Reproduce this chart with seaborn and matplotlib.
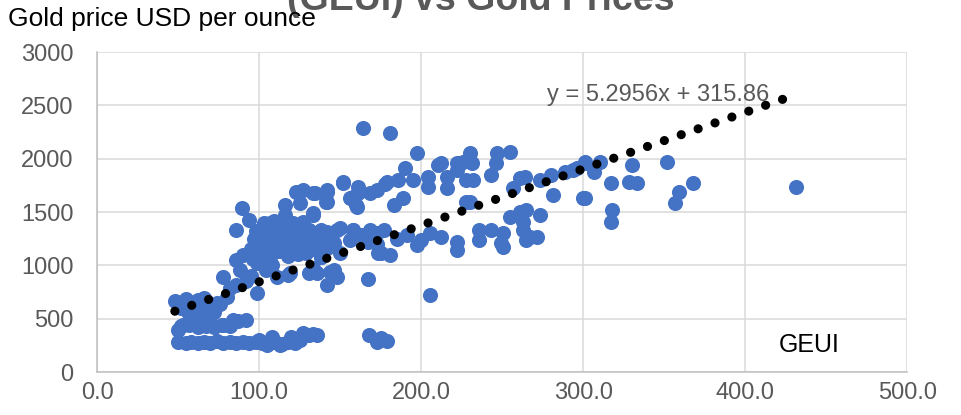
import numpy as np
import pandas as pd
import matplotlib
matplotlib.use("Agg")
import matplotlib.pyplot as plt
import seaborn as sns

# GEUI index values (x) and gold price USD/oz (y)
geui_low = [50, 55, 58, 62, 66, 70, 74, 78, 82, 86, 90, 94, 98, 102, 106, 110, 114,
            118, 122, 127, 131, 136, 120, 113, 105, 168, 173, 179, 175, 100, 108, 125, 133]
gold_low = [280, 275, 285, 270, 280, 275, 290, 270, 285, 275, 280, 270, 285, 275, 270,
            285, 265, 280, 275, 370, 345, 350, 330, 255, 255, 345, 280, 295, 320, 300, 330, 300, 360]

geui_mid_low = [52, 57, 62, 67, 72, 77, 82, 87, 92, 84, 78, 70, 60, 50, 53,
                48, 55, 62, 68, 74, 58, 65, 52, 60, 70, 76, 80, 66, 56, 64, 72]
gold_mid_low = [430, 440, 425, 435, 420, 445, 430, 480, 488, 488, 441, 470, 460, 394, 441,
                670, 680, 675, 660, 650, 640, 620, 600, 580, 600, 640, 700, 690, 560, 540, 560]

geui_rise = [78, 82, 86, 88, 99, 99, 111, 118, 119, 86, 92, 95, 104, 108, 96, 90, 102,
             95, 97, 98, 100, 102, 104, 106, 108, 110, 112, 113, 115, 117, 119, 120, 122,
             124, 125, 127, 128, 130, 132, 133, 135, 137, 138, 140, 103, 109, 114, 121, 126,
             131, 101, 107, 118, 129]
gold_rise = [891, 788, 1050, 957, 1022, 741, 891, 910, 930, 816, 850, 900, 960, 1000, 1060, 1100, 1100,
             1150, 1250, 1320, 1200, 1280, 1350, 1180, 1240, 1310, 1130, 1200, 1270, 1350, 1160, 1230, 1300,
             1110, 1180, 1250, 1340, 1200, 1280, 1150, 1230, 1300, 1079, 1180, 1400, 1420, 1380, 1400, 1380,
             1330, 1120, 1080, 1090, 1120]

geui_upper = [86, 89.5, 94, 107, 116, 116, 123, 125, 127, 133, 134.5, 142, 142, 142, 152,
              156, 158, 160.5, 161, 161, 168.5, 173, 179, 183, 189, 141, 133, 127, 133, 157, 160]
gold_upper = [1332, 1538, 1426, 1398, 1566, 1473, 1688, 1585, 1407, 1473, 1679, 1688, 1595, 1707, 1773,
              1632, 1641, 1548, 1735, 1679, 1679, 1707, 1782, 1566, 1632, 1595, 1491, 1707, 1679, 1632, 1566]

geui_center = [142, 150, 158, 142, 130, 138, 148, 158, 168.5, 177, 146, 156, 167, 175, 191,
               197.5, 205.5, 222, 222, 138, 150, 133, 173, 173.5, 144, 142, 146, 148, 131, 136,
               167, 205.6, 173, 185, 163, 181, 200, 212]
gold_center = [1313, 1350, 1332, 1163, 1332, 1332, 1332, 1332, 1332, 1332, 1210, 1238, 1220, 1116, 1285,
               1191, 1304, 1220, 1144, 1079, 1116, 975, 1304, 1116, 938, 816, 957, 891, 929, 929,
               872, 722, 1200, 1250, 1280, 1100, 1240, 1270]

geui_high = [164, 181, 197.5, 190, 210.5, 222, 222, 195, 204, 204, 216, 216, 212, 152, 230,
             226, 231.5, 228, 232, 243, 247, 246, 255, 264, 261, 257, 228, 230, 186, 178]
gold_high = [2289, 2242, 2054, 1914, 1942, 1960, 1895, 1801, 1829, 1735, 1829, 1726, 1960, 1782, 2054,
             1970, 1960, 1801, 1801, 1848, 2054, 1960, 2064, 1829, 1820, 1726, 1595, 1595, 1800, 1760]

geui_right = [255, 261, 265, 273.5, 263, 263, 236, 243, 250.6, 249, 250.6, 236, 265, 267, 271.6,
              273.5, 280, 289, 296, 301, 281.5, 300, 301, 310.5, 307, 294, 317, 301, 318, 317,
              330, 328, 333, 352, 359, 357, 368, 431.5]
gold_right = [1454, 1500, 1520, 1473, 1407, 1332, 1332, 1332, 1304, 1210, 1172, 1238, 1238, 1266, 1266,
              1801, 1848, 1876, 1914, 1960, 1660, 1632, 1970, 1970, 1876, 1895, 1773, 1632, 1520, 1407,
              1942, 1782, 1773, 1970, 1688, 1585, 1773, 1735]

# trendline as printed on the chart
TREND_SLOPE = 5.2956
TREND_INTERCEPT = 315.86
TREND_LABEL = "y = 5.2956x + 315.86"

X_TICKS = [0, 100, 200, 300, 400, 500]
Y_TICKS = [0, 500, 1000, 1500, 2000, 2500, 3000]


def main():
    geui = geui_low + geui_mid_low + geui_rise + geui_upper + geui_center + geui_high + geui_right
    gold = gold_low + gold_mid_low + gold_rise + gold_upper + gold_center + gold_high + gold_right
    df = pd.DataFrame({"geui": geui, "gold": gold})

    sns.set_style("white")
    plt.rcParams["font.family"] = ["Liberation Sans", "DejaVu Sans"]

    fig = plt.figure(figsize=(9.61, 4.15), dpi=100)
    ax = fig.add_axes([0.101, 0.1036, 0.843, 0.771])

    sns.scatterplot(data=df, x="geui", y="gold", ax=ax, color="#4472C4",
                    s=118, linewidth=0, alpha=1, zorder=3)

    tx = np.array([df["geui"].min(), df["geui"].max()])
    ax.plot(tx, TREND_SLOPE * tx + TREND_INTERCEPT, color="black", linewidth=6.6,
            linestyle=(0, (0.01, 1.94)), dash_capstyle="round", zorder=4)

    ax.set_xlim(0, 500)
    ax.set_ylim(0, 3000)
    ax.set_xticks(X_TICKS)
    ax.set_yticks(Y_TICKS)
    ax.set_xticklabels([f"{v:.1f}" for v in X_TICKS])
    ax.set_yticklabels([str(v) for v in Y_TICKS])
    ax.tick_params(axis="both", length=0, labelsize=17, colors="#595959")
    ax.tick_params(axis="x", pad=7)
    ax.tick_params(axis="y", pad=17)
    ax.set_xlabel("")
    ax.set_ylabel("")

    ax.grid(True, color="#D9D9D9", linewidth=1.1)
    ax.set_axisbelow(True)
    for side in ["top", "right"]:
        ax.spines[side].set_visible(False)
    for side in ["left", "bottom"]:
        ax.spines[side].set_color("#BFBFBF")
        ax.spines[side].set_linewidth(1.1)

    ax.text(278, 2598, TREND_LABEL, ha="left", va="center", fontsize=17, color="#595959")
    ax.text(421, 253, "GEUI", ha="left", va="center", fontsize=18, color="black")

    # top of the chart title is cut off in the reference
    fig.text(0.5, 0.975, "(GEUI) vs Gold Prices", ha="center", va="baseline",
             fontsize=27, fontweight="bold", color="#595959")
    fig.text(0.008, 0.937, "Gold price USD per ounce", ha="left", va="baseline",
             fontsize=19, color="black")

    fig.savefig("out.png", dpi=100)
    plt.close(fig)


if __name__ == "__main__":
    main()
